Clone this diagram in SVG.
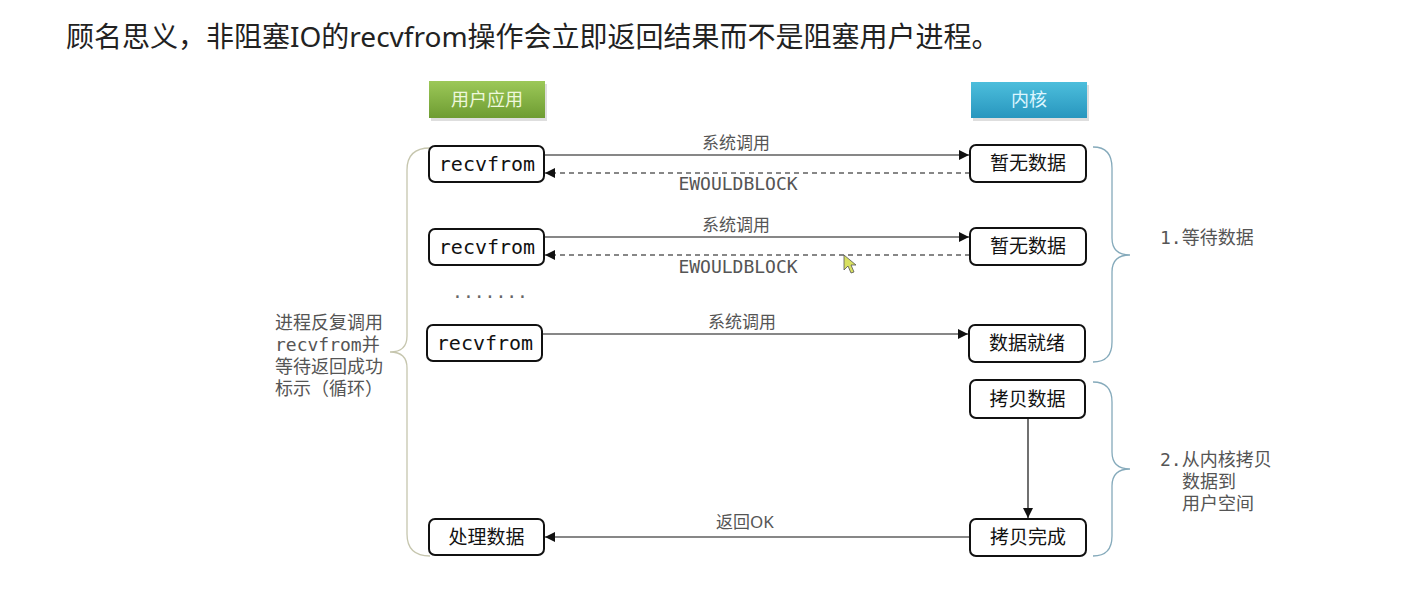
<svg xmlns="http://www.w3.org/2000/svg" width="1412" height="608" viewBox="0 0 1412 608">
<defs>
<linearGradient id="gGreen" x1="0" y1="0" x2="0" y2="1">
<stop offset="0" stop-color="#9cc858"/><stop offset="1" stop-color="#6e9c32"/>
</linearGradient>
<linearGradient id="gBlue" x1="0" y1="0" x2="0" y2="1">
<stop offset="0" stop-color="#4cbedc"/><stop offset="1" stop-color="#2896be"/>
</linearGradient>
<marker id="arr" viewBox="0 0 10 10" refX="10" refY="5" markerWidth="10" markerHeight="10" markerUnits="userSpaceOnUse" orient="auto">
<path d="M0,0 L10,5 L0,10 z" fill="#111"/>
</marker>
<style>
.title{font-family:"Noto Sans","Noto Sans CJK SC",sans-serif;font-size:28px;fill:#222}
.box{fill:#fff;stroke:#111;stroke-width:2}
.mono{font-family:"DejaVu Sans Mono","Noto Sans CJK SC",monospace;font-size:20px;fill:#111}
.cjk{font-family:"Noto Sans CJK SC",sans-serif;font-size:19px;fill:#111}
.lbl{font-family:"Noto Sans","Noto Sans CJK SC",sans-serif;font-size:17px;fill:#555}
.lblm{font-family:"DejaVu Sans Mono","Noto Sans CJK SC",monospace;font-size:18px;fill:#555}
.side{font-family:"DejaVu Sans Mono","Noto Sans CJK SC",monospace;font-size:18px;fill:#555}
.hdr{font-family:"Noto Sans CJK SC",sans-serif;font-size:18px}
.solid{stroke:#111;stroke-width:1.2;fill:none}
.dash{stroke:#111;stroke-width:1.2;fill:none;stroke-dasharray:5 4}
.brL{stroke:#c6c6ae;stroke-width:1.3;fill:none}
.brR{stroke:#85aabb;stroke-width:1.3;fill:none}
</style>
</defs>
<rect width="1412" height="608" fill="#fff"/>
<text class="title" x="66" y="47">顾名思义，非阻塞IO的recvfrom操作会立即返回结果而不是阻塞用户进程。</text>

<g id="hdr-user">
<rect x="431" y="84" width="116" height="37" fill="#000" opacity="0.13"/>
<rect x="429" y="81" width="116" height="37" fill="url(#gGreen)"/>
<text class="hdr" x="487" y="106" text-anchor="middle" fill="#eef8dc">用户应用</text>
</g>
<g id="hdr-kernel">
<rect x="973" y="85" width="116" height="36" fill="#000" opacity="0.13"/>
<rect x="971" y="82" width="116" height="36" fill="url(#gBlue)"/>
<text class="hdr" x="1029" y="106" text-anchor="middle" fill="#dcf6ff">内核</text>
</g>

<g id="brace-left">
<path class="brL" d="M430,148 Q407,148 407,170 L407,336 Q407,352 390,352 Q407,352 407,368 L407,534 Q407,556 430,556"/>
</g>
<g id="brace-right-1">
<path class="brR" d="M1093,147 Q1112,147 1112,168 L1112,238 Q1112,255 1130,255 Q1112,255 1112,272 L1112,342 Q1112,362 1093,362"/>
</g>
<g id="brace-right-2">
<path class="brR" d="M1093,382 Q1112,382 1112,402 L1112,452 Q1112,469 1130,469 Q1112,469 1112,486 L1112,536 Q1112,556 1093,556"/>
</g>

<g id="connectors">
<line class="solid" x1="544" y1="155" x2="969" y2="155" marker-end="url(#arr)"/>
<line class="dash" x1="970" y1="173" x2="545" y2="173" marker-end="url(#arr)"/>
<line class="solid" x1="544" y1="237" x2="969" y2="237" marker-end="url(#arr)"/>
<line class="dash" x1="970" y1="255" x2="545" y2="255" marker-end="url(#arr)"/>
<line class="solid" x1="542" y1="334" x2="968" y2="334" marker-end="url(#arr)"/>
<line class="solid" x1="1028" y1="418" x2="1028" y2="518" marker-end="url(#arr)"/>
<line class="solid" x1="970" y1="537" x2="545" y2="537" marker-end="url(#arr)"/>
<text class="lbl" x="736" y="149" text-anchor="middle">系统调用</text>
<text class="lblm" x="738" y="190" text-anchor="middle">EWOULDBLOCK</text>
<text class="lbl" x="736" y="231" text-anchor="middle">系统调用</text>
<text class="lblm" x="738" y="273" text-anchor="middle">EWOULDBLOCK</text>
<text class="lbl" x="742" y="328" text-anchor="middle">系统调用</text>
<text class="lbl" x="745" y="528" text-anchor="middle">返回OK</text>
</g>

<g id="n-recv1"><rect class="box" x="429" y="146" width="115" height="36" rx="6"/><text class="mono" x="487" y="171" text-anchor="middle">recvfrom</text></g>
<g id="n-recv2"><rect class="box" x="429" y="229" width="115" height="36" rx="6"/><text class="mono" x="487" y="254" text-anchor="middle">recvfrom</text></g>
<g id="n-dots"><text class="mono" x="490" y="298" text-anchor="middle" style="fill:#666;font-size:18px">.......</text></g>
<g id="n-recv3"><rect class="box" x="427" y="325" width="115" height="36" rx="6"/><text class="mono" x="485" y="350" text-anchor="middle">recvfrom</text></g>
<g id="n-process"><rect class="box" x="429" y="519" width="115" height="36" rx="6"/><text class="cjk" x="486.5" y="544" text-anchor="middle">处理数据</text></g>

<g id="k-none1"><rect class="box" x="970" y="145" width="116" height="37" rx="6"/><text class="cjk" x="1028" y="170" text-anchor="middle">暂无数据</text></g>
<g id="k-none2"><rect class="box" x="970" y="228" width="116" height="37" rx="6"/><text class="cjk" x="1028" y="253" text-anchor="middle">暂无数据</text></g>
<g id="k-ready"><rect class="box" x="969" y="325" width="116" height="37" rx="6"/><text class="cjk" x="1027" y="350" text-anchor="middle">数据就绪</text></g>
<g id="k-copy"><rect class="box" x="970" y="380" width="115" height="38" rx="6"/><text class="cjk" x="1027.5" y="406" text-anchor="middle">拷贝数据</text></g>
<g id="k-done"><rect class="box" x="970" y="519" width="116" height="37" rx="6"/><text class="cjk" x="1028" y="544" text-anchor="middle">拷贝完成</text></g>

<g id="label-left">
<text class="side" x="275" y="329">进程反复调用</text>
<text class="side" x="275" y="351">recvfrom并</text>
<text class="side" x="275" y="373">等待返回成功</text>
<text class="side" x="275" y="395">标示（循环）</text>
</g>
<g id="label-wait"><text class="side" x="1160" y="244">1.等待数据</text></g>
<g id="label-copy">
<text class="side" x="1160" y="466">2.从内核拷贝</text>
<text class="side" x="1182" y="488">数据到</text>
<text class="side" x="1182" y="510">用户空间</text>
</g>

<path d="M844,255 L844,270 L848,266 L851,273 L854,272 L851,265 L856,265 z" fill="#d8e060" stroke="#555" stroke-width="0.8"/>
</svg>
